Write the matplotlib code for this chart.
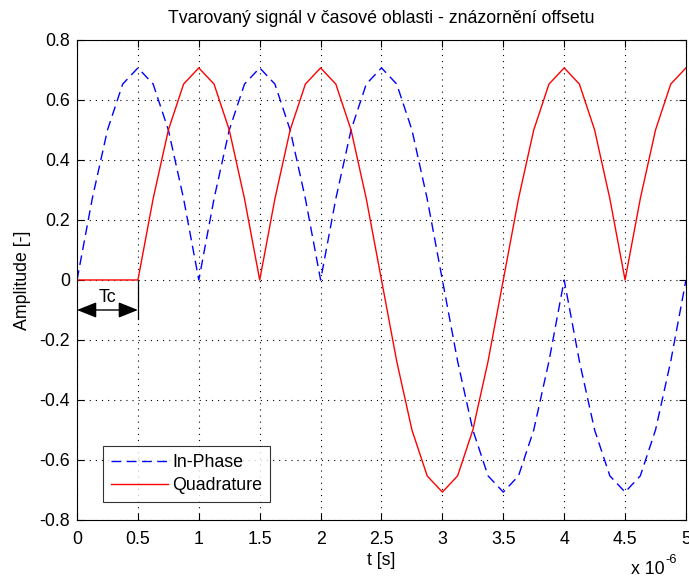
import matplotlib
matplotlib.use("Agg")
import matplotlib.pyplot as plt

plt.rcParams['font.family'] = ['Liberation Sans', 'DejaVu Sans']

# Sample instants in microseconds (step 0.125 us)
t_us = [0.000, 0.125, 0.250, 0.375, 0.500, 0.625, 0.750, 0.875,
        1.000, 1.125, 1.250, 1.375, 1.500, 1.625, 1.750, 1.875,
        2.000, 2.125, 2.250, 2.375, 2.500, 2.625, 2.750, 2.875,
        3.000, 3.125, 3.250, 3.375, 3.500, 3.625, 3.750, 3.875,
        4.000, 4.125, 4.250, 4.375, 4.500, 4.625, 4.750, 4.875,
        5.000]

in_phase = [0.000, 0.271, 0.500, 0.653, 0.707, 0.653, 0.500, 0.271,
            0.000, 0.271, 0.500, 0.653, 0.707, 0.653, 0.500, 0.271,
            0.000, 0.271, 0.500, 0.653, 0.707, 0.653, 0.500, 0.271,
            0.000, -0.271, -0.500, -0.653, -0.707, -0.653, -0.500, -0.271,
            0.000, -0.271, -0.500, -0.653, -0.707, -0.653, -0.500, -0.271,
            0.000]

quadrature = [0.000, 0.000, 0.000, 0.000, 0.000, 0.271, 0.500, 0.653,
              0.707, 0.653, 0.500, 0.271, 0.000, 0.271, 0.500, 0.653,
              0.707, 0.653, 0.500, 0.271, 0.000, -0.271, -0.500, -0.653,
              -0.707, -0.653, -0.500, -0.271, 0.000, 0.271, 0.500, 0.653,
              0.707, 0.653, 0.500, 0.271, 0.000, 0.271, 0.500, 0.653,
              0.707]

x_ticks = [0, 0.5, 1, 1.5, 2, 2.5, 3, 3.5, 4, 4.5, 5]
x_tick_labels = ['0', '0.5', '1', '1.5', '2', '2.5', '3', '3.5', '4', '4.5', '5']
y_ticks = [-0.8, -0.6, -0.4, -0.2, 0, 0.2, 0.4, 0.6, 0.8]
y_tick_labels = ['-0.8', '-0.6', '-0.4', '-0.2', '0', '0.2', '0.4', '0.6', '0.8']
tc_us = 0.5

FS = 12.8

fig = plt.figure(figsize=(6.89, 5.77), dpi=100)
ax = fig.add_axes([0.1118, 0.0988, 0.8838, 0.8319])

ax.plot(t_us, in_phase, color='#0000ff', linestyle='--', dashes=(7, 4),
        linewidth=1.0, label='In-Phase')
ax.plot(t_us, quadrature, color='#ff0000', linestyle='-', linewidth=1.0,
        label='Quadrature')

ax.set_xlim(0, 5)
ax.set_ylim(-0.8, 0.8)
ax.set_xticks(x_ticks)
ax.set_xticklabels(x_tick_labels)
ax.set_yticks(y_ticks)
ax.set_yticklabels(y_tick_labels)
ax.tick_params(direction='in', length=5, width=0.8, labelsize=FS,
               top=True, right=True)
ax.tick_params(axis='x', pad=8)
ax.tick_params(axis='y', pad=5)
ax.grid(True, color='black', linestyle=(0, (1, 4.5)), linewidth=0.8)
for s in ax.spines.values():
    s.set_linewidth(0.8)

ax.set_title('Tvarovaný signál v časové oblasti - znázornění offsetu',
             fontsize=FS, pad=12)
ax.set_xlabel('t [s]', fontsize=FS, labelpad=3)
ax.set_ylabel('Amplitude [-]', fontsize=FS, labelpad=6)

# Axis multiplier, drawn as plain text with a raised exponent
ax.text(0.9655, -0.1125, 'x 10', transform=ax.transAxes,
        ha='right', va='baseline', fontsize=FS)
ax.text(0.967, -0.0896, '-6', transform=ax.transAxes,
        ha='left', va='baseline', fontsize=FS * 0.72)

# Offset marker Tc
ax.plot([tc_us, tc_us], [0, -0.13], color='black', linewidth=0.9)
ax.annotate('', xy=(0, -0.1), xytext=(tc_us, -0.1),
            arrowprops=dict(arrowstyle='<|-|>,head_length=1.0,head_width=0.4',
                            color='black', lw=1.0,
                            mutation_scale=12, shrinkA=0, shrinkB=0))
ax.text(0.246, -0.06, 'Tc', ha='center', va='center', fontsize=FS)

leg = ax.legend(loc='lower left', bbox_to_anchor=(0.0427, 0.0375),
                borderaxespad=0, fontsize=FS,
                frameon=True, fancybox=False, edgecolor='black',
                handlelength=3.2, borderpad=0.45, labelspacing=0.35,
                handletextpad=0.25)
leg.get_frame().set_linewidth(0.8)

fig.savefig('out.png', dpi=100)
